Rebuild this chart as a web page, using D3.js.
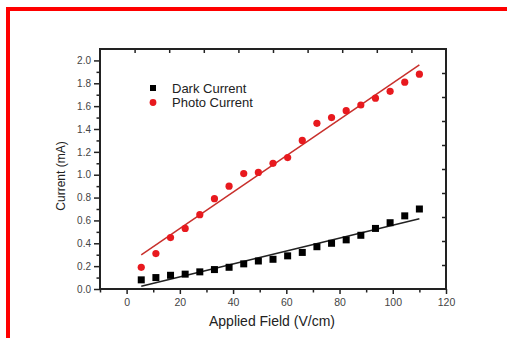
<!DOCTYPE html>
<html>
<head>
<meta charset="utf-8">
<script src="https://cdn.jsdelivr.net/npm/d3@7"></script>
<style>
  body { margin: 0; background: #fff; }
  svg { display: block; font-family: "Liberation Sans", Arial, sans-serif; }
</style>
</head>
<body>
<div id="chart"></div>
<script>
// applied field (V/cm)
var fieldValues = [5.5, 11, 16.5, 22, 27.5, 33, 38.5, 44, 49.5, 55, 60.5, 66, 71.5, 77, 82.5, 88, 93.5, 99, 104.5, 110];
// dark current (mA)
var darkCurrent = [0.08, 0.10, 0.12, 0.13, 0.15, 0.17, 0.19, 0.22, 0.245, 0.26, 0.29, 0.32, 0.37, 0.40, 0.43, 0.47, 0.53, 0.58, 0.64, 0.70];
// photo current (mA)
var photoCurrent = [0.19, 0.31, 0.45, 0.53, 0.65, 0.79, 0.90, 1.01, 1.02, 1.10, 1.15, 1.30, 1.45, 1.50, 1.56, 1.61, 1.67, 1.73, 1.81, 1.88];
var xTicks = [0, 20, 40, 60, 80, 100, 120];
var yTicks = [0, 0.2, 0.4, 0.6, 0.8, 1.0, 1.2, 1.4, 1.6, 1.8, 2.0];
var seriesNames = ["Dark Current", "Photo Current"];

function drawChart() {
  var W = 507, H = 338;
  var margin = {top: 49, right: 61, bottom: 49, left: 100},
      width = W - margin.left - margin.right,
      height = H - margin.top - margin.bottom;

  var root = d3.select("#chart").append("svg")
    .attr("width", W)
    .attr("height", H);

  // red frame round the figure
  root.append("path")
    .attr("d", "M8," + H + " L8,9 L" + W + ",9")
    .attr("fill", "none")
    .attr("stroke", "#ff0000")
    .attr("stroke-width", 4);

  var svg = root.append("g")
    .attr("transform", "translate(" + margin.left + "," + margin.top + ")");

  var x = d3.scaleLinear().domain([-10, 120]).range([0, width]);
  var y = d3.scaleLinear().domain([0, 2.1]).range([height, 0]);

  // bottom axis, major + minor ticks
  var minorX = d3.range(-10, 121, 10).filter(function(d){ return xTicks.indexOf(d) < 0; });
  svg.append("g")
    .attr("transform", "translate(0," + height + ")")
    .call(d3.axisBottom(x).tickValues(minorX).tickSize(3.5).tickFormat(""))
    .call(function(g){ g.select(".domain").remove(); });
  var xAxis = svg.append("g")
    .attr("transform", "translate(0," + height + ")")
    .call(d3.axisBottom(x).tickValues(xTicks).tickSize(5).tickSizeOuter(0).tickPadding(5));
  xAxis.select(".domain").remove();
  xAxis.selectAll("text").style("font-size", "10.5px").style("fill", "#444");

  // left axis
  var minorY = d3.range(0.1, 2.1, 0.2);
  svg.append("g")
    .call(d3.axisLeft(y).tickValues(minorY).tickSize(3.5).tickFormat(""))
    .call(function(g){ g.select(".domain").remove(); });
  var yAxis = svg.append("g")
    .call(d3.axisLeft(y).tickValues(yTicks).tickSize(6).tickSizeOuter(0).tickPadding(3)
      .tickFormat(d3.format(".1f")));
  yAxis.select(".domain").remove();
  yAxis.selectAll("text").style("font-size", "10px").style("fill", "#444");

  // top and right axes: ten even divisions, ticks inward
  var topTicks = d3.range(1, 10).map(function(i){ return -10 + 13 * i; });
  var rightTicks = d3.range(1, 10).map(function(i){ return 0.21 * i; });
  svg.append("g")
    .call(d3.axisBottom(x).tickValues(topTicks).tickSize(4).tickFormat(""))
    .call(function(g){ g.select(".domain").remove(); });
  svg.append("g")
    .attr("transform", "translate(" + width + ",0)")
    .call(d3.axisLeft(y).tickValues(rightTicks).tickSize(4).tickFormat(""))
    .call(function(g){ g.select(".domain").remove(); });

  svg.selectAll(".tick line").attr("stroke", "#222").attr("stroke-width", 1.5);

  // plot frame
  svg.append("rect")
    .attr("width", width)
    .attr("height", height)
    .attr("fill", "none")
    .attr("stroke", "#222")
    .attr("stroke-width", 2);

  // linear fits
  function fit(xs, ys) {
    var mx = d3.mean(xs), my = d3.mean(ys);
    var sxy = d3.sum(xs, function(d, i){ return (d - mx) * (ys[i] - my); });
    var sxx = d3.sum(xs, function(d){ return (d - mx) * (d - mx); });
    var b = sxy / sxx, a = my - b * mx;
    var ends = d3.extent(xs);
    return ends.map(function(v){ return [v, a + b * v]; });
  }
  var line = d3.line().x(function(d){ return x(d[0]); }).y(function(d){ return y(d[1]); });

  svg.append("path")
    .attr("d", line(fit(fieldValues, photoCurrent)))
    .attr("fill", "none").attr("stroke", "#c8302c").attr("stroke-width", 1.5);
  svg.append("path")
    .attr("d", line(fit(fieldValues, darkCurrent)))
    .attr("fill", "none").attr("stroke", "#222").attr("stroke-width", 1.5);

  // points
  var s = 7;
  svg.selectAll(".dark")
    .data(fieldValues)
    .enter().append("rect")
      .attr("x", function(d){ return x(d) - s / 2; })
      .attr("y", function(d, i){ return y(darkCurrent[i]) - s / 2; })
      .attr("width", s).attr("height", s)
      .attr("fill", "#000");
  svg.selectAll(".photo")
    .data(fieldValues)
    .enter().append("circle")
      .attr("cx", function(d){ return x(d); })
      .attr("cy", function(d, i){ return y(photoCurrent[i]); })
      .attr("r", 3.6)
      .attr("fill", "#e8191e");

  // legend
  var leg = root.append("g").attr("transform", "translate(153,88)");
  leg.append("rect").attr("x", -3).attr("y", -3).attr("width", 6).attr("height", 6).attr("fill", "#000");
  leg.append("circle").attr("cx", 0).attr("cy", 14.5).attr("r", 3.4).attr("fill", "#e8191e");
  leg.selectAll("text")
    .data(seriesNames)
    .enter().append("text")
      .attr("x", 19)
      .attr("y", function(d, i){ return 4.5 + i * 14; })
      .style("font-size", "13px")
      .style("fill", "#222")
      .text(function(d){ return d; });

  // axis titles
  root.append("text")
    .attr("x", 272)
    .attr("y", 326)
    .attr("text-anchor", "middle")
    .style("font-size", "14px")
    .style("fill", "#222")
    .text("Applied Field (V/cm)");
  root.append("text")
    .attr("transform", "translate(65,176) rotate(-90)")
    .attr("text-anchor", "middle")
    .style("font-size", "12px")
    .style("fill", "#222")
    .text("Current (mA)");
}

drawChart();
</script>
</body>
</html>
